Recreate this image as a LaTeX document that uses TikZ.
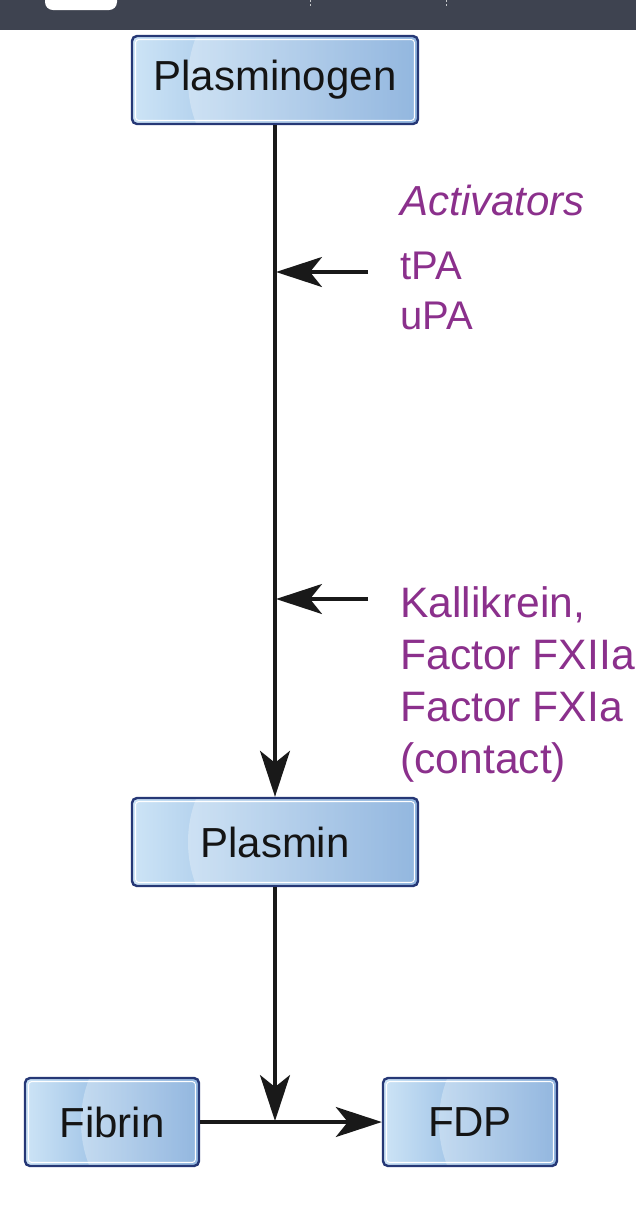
\documentclass[tikz,border=0pt]{standalone}
\usepackage{fontspec}
\setmainfont{Liberation Sans}
\usetikzlibrary{arrows.meta,positioning}

\definecolor{barcol}{RGB}{62,67,80}
\definecolor{boxline}{RGB}{38,56,118}
\definecolor{boxlight}{RGB}{205,228,246}
\definecolor{boxdark}{RGB}{100,152,210}
\definecolor{actcol}{RGB}{139,48,140}

\tikzset{
  enzyme/.style={rectangle, rounded corners=2.5pt, draw=boxline, line width=1.2pt,
    left color=boxlight, right color=boxdark, text=black!92,
    minimum height=44pt, font=\fontsize{21}{25}\selectfont,
    path picture={
      \fill[white, opacity=0.3] ([xshift=88pt]path picture bounding box.west) circle (60pt);
      \draw[white, line width=0.5pt, rounded corners=1.5pt]
        ([shift={(1.8pt,1.8pt)}]path picture bounding box.south west) rectangle
        ([shift={(-1.8pt,-1.8pt)}]path picture bounding box.north east);
    }},
  flow/.style={line width=1.6pt, black!90, -{Stealth[length=23pt,width=15pt,inset=6pt]}},
  agent/.style={text=actcol, font=\fontsize{21.3}{26}\selectfont, align=left, anchor=base west, inner sep=0pt},
}

\begin{document}
\begin{tikzpicture}[x=0.5pt, y=-0.5pt]
\useasboundingbox (0,0) rectangle (636,1206);

% window bar of the screenshot
\fill[barcol] (0,0) rectangle (636,30);
\fill[white, rounded corners=4pt] (45,-10) rectangle (117,10);
\draw[white!70!barcol, dash pattern=on 1pt off 1pt, line width=0.5pt] (310,0) -- (310,8);
\draw[white!70!barcol, dash pattern=on 1pt off 1pt, line width=0.5pt] (446,0) -- (446,8);

% boxes
\node[enzyme, minimum width=143pt] (plasminogen) at (275,80) {Plasminogen};
\node[enzyme, minimum width=143pt] (plasmin) at (275,842) {Plasmin};
\node[enzyme, minimum width=87pt] (fibrin) at (112,1122) {Fibrin};
\node[enzyme, minimum width=87pt] (fdp) at (470,1122) {FDP};

% activators (base = last line)
\node[agent, font=\fontsize{21}{26}\selectfont\itshape] (activators) at (400,215) {Activators};
\node[agent, font=\fontsize{20}{25}\selectfont] (tpa) at (400,329) {tPA\\uPA};
\node[agent] (kallikrein) at (400,773) {Kallikrein,\\Factor FXIIa\\Factor FXIa\\(contact)};

\coordinate (tpa in) at (368,272);
\coordinate (tpa hit) at (276,272);
\coordinate (contact in) at (368,599);
\coordinate (contact hit) at (276,599);
\coordinate (cleave) at (275,1121);

% connectors
\draw[flow] (plasminogen) -- (plasmin);
\draw[flow] (tpa in) -- (tpa hit);
\draw[flow] (contact in) -- (contact hit);
\draw[flow] (plasmin) -- (cleave);
\draw[flow] (fibrin) -- (fdp);
\end{tikzpicture}
\end{document}
